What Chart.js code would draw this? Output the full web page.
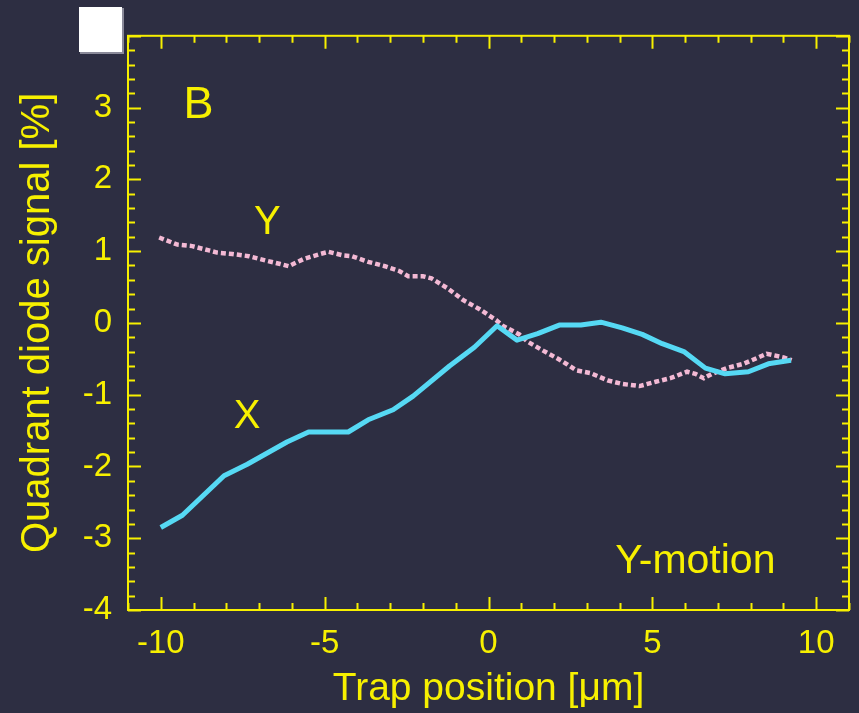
<!DOCTYPE html>
<html>
<head>
<meta charset="utf-8">
<script src="https://cdn.jsdelivr.net/npm/chart.js@4/dist/chart.umd.min.js"></script>
<style>
  html, body { margin: 0; padding: 0; background: #2d2e42; }
  canvas { display: block; }
</style>
</head>
<body>
<canvas id="quadChart" width="859" height="713"></canvas>
<script>
// X signal (cyan, solid)
var xSigPos = [-10.0, -9.34, -8.07, -7.36, -6.15, -5.49, -4.28, -3.67, -2.91, -2.30, -1.19, -0.43,
  0.26, 0.87, 1.50, 2.16, 2.82, 3.43, 4.08, 4.69, 5.30, 5.96, 6.62, 7.22, 7.93, 8.54, 9.23];
var xSigVal = [-2.85, -2.68, -2.13, -1.97, -1.66, -1.52, -1.52, -1.35, -1.21, -1.02, -0.60, -0.34,
  -0.04, -0.24, -0.15, -0.03, -0.03, 0.01, -0.07, -0.16, -0.29, -0.40, -0.63, -0.71, -0.68, -0.57, -0.52];

// Y signal (pink, dotted)
var ySigPos = [-10.05, -9.49, -9.04, -8.53, -8.28, -7.82, -7.32, -6.81, -6.35, -6.10, -5.64, -5.14,
  -4.88, -4.43, -4.17, -3.67, -3.16, -2.71, -2.45, -2.00, -1.74, -1.24, -0.78, -0.27, 0.23, 0.43,
  0.94, 1.19, 1.68, 2.16, 2.41, 2.67, 3.12, 3.63, 4.08, 4.61, 5.10, 5.55, 6.06, 6.31, 6.57, 6.82,
  7.27, 7.78, 8.24, 8.49, 9.00, 9.25];
var ySigVal = [1.19, 1.09, 1.07, 1.01, 0.98, 0.96, 0.93, 0.87, 0.82, 0.79, 0.89, 0.96,
  0.99, 0.94, 0.93, 0.85, 0.79, 0.72, 0.65, 0.65, 0.62, 0.48, 0.32, 0.19, 0.04, -0.04,
  -0.16, -0.26, -0.39, -0.51, -0.58, -0.66, -0.70, -0.80, -0.85, -0.88, -0.82, -0.77, -0.68, -0.71, -0.77, -0.71,
  -0.63, -0.57, -0.48, -0.43, -0.48, -0.52];

var xTickLabels = [-10, -5, 0, 5, 10];
var yTickLabels = [-4, -3, -2, -1, 0, 1, 2, 3];

var YELLOW = "#f7f000";
var FONT = "'Liberation Sans', Arial, Helvetica, sans-serif";

function toPoints(xs, ys) {
  var out = [];
  for (var i = 0; i < xs.length; i++) out.push({ x: xs[i], y: ys[i] });
  return out;
}

// frame, inward ticks, labels in the plot, white box
var framePlugin = {
  id: "frame",
  afterDraw: function (chart) {
    var ctx = chart.ctx;
    var a = chart.chartArea;
    var xs = chart.scales.x, ys = chart.scales.y;
    ctx.save();

    // white box top-left
    ctx.fillStyle = "#8a8a99";
    ctx.fillRect(80, 8, 44, 46);
    ctx.fillStyle = "#ffffff";
    ctx.fillRect(79, 7, 43, 45);

    ctx.strokeStyle = YELLOW;
    ctx.lineWidth = 2;
    ctx.strokeRect(a.left, a.top, a.right - a.left, a.bottom - a.top);

    ctx.beginPath();
    for (var v = -11; v <= 11; v++) {
      var px = Math.round(xs.getPixelForValue(v)) + 0.5;
      var len = v % 5 === 0 ? 13 : 7;
      ctx.moveTo(px, a.bottom); ctx.lineTo(px, a.bottom - len);
      ctx.moveTo(px, a.top); ctx.lineTo(px, a.top + len);
    }
    for (var k = -20; k <= 20; k++) {
      var py = Math.round(ys.getPixelForValue(k / 5)) + 0.5;
      var l2 = k % 5 === 0 ? 13 : 7;
      ctx.moveTo(a.left, py); ctx.lineTo(a.left + l2, py);
      ctx.moveTo(a.right, py); ctx.lineTo(a.right - l2, py);
    }
    ctx.stroke();

    var notes = [
      { text: "B", x: -8.85, y: 2.85, size: 45 },
      { text: "Y", x: -6.75, y: 1.24, size: 40 },
      { text: "X", x: -7.37, y: -1.46, size: 40 },
      { text: "Y-motion", x: 6.31, y: -3.48, size: 41 }
    ];
    ctx.fillStyle = YELLOW;
    ctx.textAlign = "center";
    ctx.textBaseline = "alphabetic";
    notes.forEach(function (n) {
      ctx.font = n.size + "px " + FONT;
      ctx.fillText(n.text, xs.getPixelForValue(n.x), ys.getPixelForValue(n.y));
    });
    ctx.restore();
  }
};

var canvas = document.getElementById("quadChart");
var chart = new Chart(canvas.getContext("2d"), {
  type: "scatter",
  data: {
    datasets: [
      {
        label: "X",
        data: toPoints(xSigPos, xSigVal),
        showLine: true,
        borderColor: "#56d9f4",
        borderWidth: 5,
        pointRadius: 0,
        tension: 0,
        borderJoinStyle: "round"
      },
      {
        label: "Y",
        data: toPoints(ySigPos, ySigVal),
        showLine: true,
        borderColor: "#f3b9d4",
        borderWidth: 4.5,
        borderDash: [5, 3],
        pointRadius: 0,
        tension: 0
      }
    ]
  },
  options: {
    responsive: false,
    animation: false,
    layout: { padding: { left: 0, top: 34, right: 10, bottom: 0 } },
    plugins: { legend: { display: false }, tooltip: { enabled: false } },
    scales: {
      x: {
        type: "linear",
        min: -11,
        max: 11,
        grid: { display: false, drawTicks: false },
        border: { display: false },
        afterBuildTicks: function (s) {
          s.ticks = xTickLabels.map(function (v) { return { value: v }; });
        },
        afterFit: function (s) { s.height = 103; },
        ticks: {
          color: YELLOW,
          padding: 14,
          font: { family: FONT, size: 33 },
          maxRotation: 0,
          callback: function (v) { return String(v); }
        },
        title: {
          display: true,
          text: "Trap position [\u03bcm]",
          color: YELLOW,
          font: { family: FONT, size: 39 },
          padding: { top: 0, bottom: 0 }
        }
      },
      y: {
        type: "linear",
        min: -4,
        max: 4,
        grid: { display: false, drawTicks: false },
        border: { display: false },
        afterBuildTicks: function (s) {
          s.ticks = yTickLabels.map(function (v) { return { value: v }; });
        },
        afterFit: function (s) { s.width = 128; },
        ticks: {
          color: YELLOW,
          padding: 16,
          font: { family: FONT, size: 33 },
          callback: function (v) { return String(v); }
        },
        title: {
          display: true,
          text: "Quadrant diode signal [%]",
          color: YELLOW,
          font: { family: FONT, size: 40 },
          padding: { top: 14, bottom: 0 }
        }
      }
    }
  },
  plugins: [framePlugin]
});
</script>
</body>
</html>
